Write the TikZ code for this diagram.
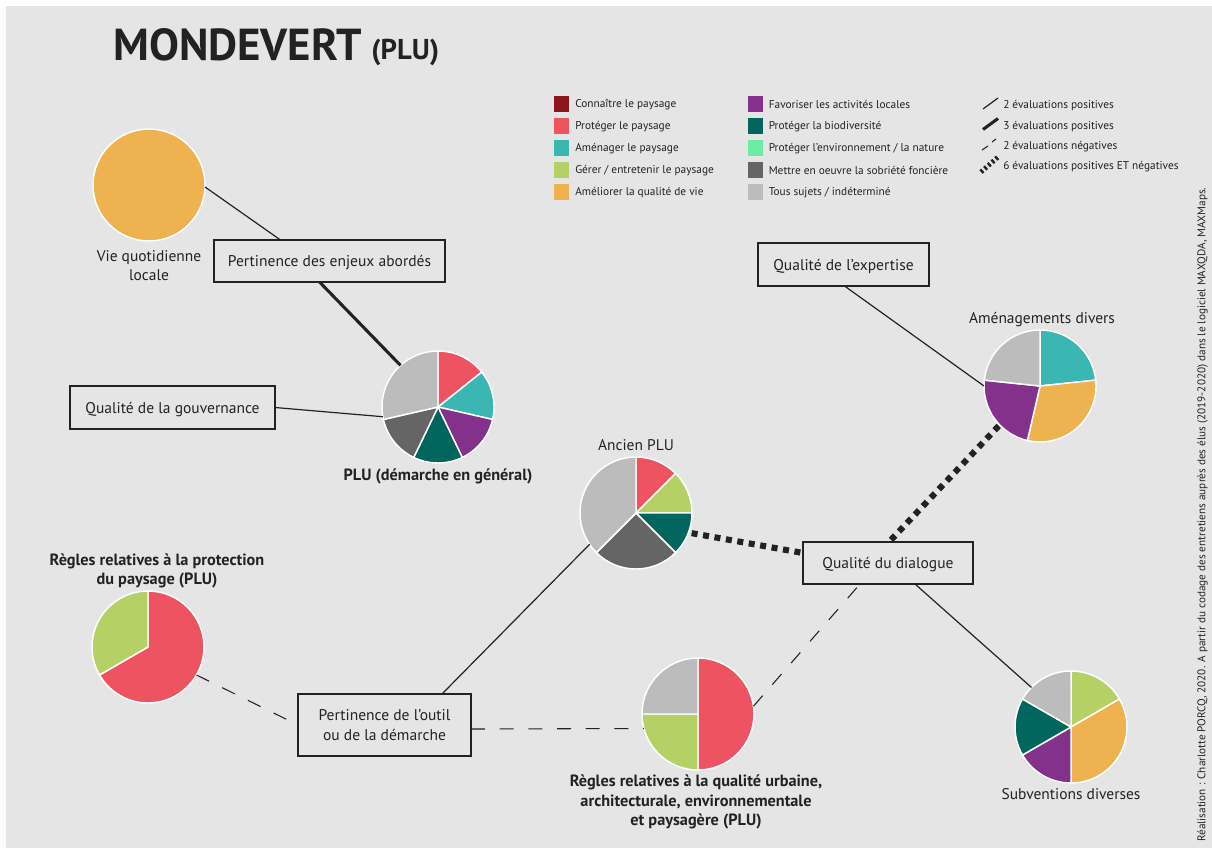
\documentclass[tikz,border=0pt]{standalone}
\usepackage{fontspec}
\setmainfont{PT Sans}
\usetikzlibrary{calc}
\definecolor{bgc}{HTML}{E5E5E5}
\definecolor{c1}{HTML}{8E1520}
\definecolor{c2}{HTML}{ED5361}
\definecolor{c3}{HTML}{3AB7B3}
\definecolor{c4}{HTML}{B5D166}
\definecolor{c5}{HTML}{EFB250}
\definecolor{c6}{HTML}{83318A}
\definecolor{c7}{HTML}{00665E}
\definecolor{c8}{HTML}{6DEDA4}
\definecolor{c9}{HTML}{656565}
\definecolor{c10}{HTML}{BCBCBC}
\definecolor{ink}{HTML}{222222}
\newcommand{\boxtext}[1]{\raisebox{-1.2pt}[\height][\depth]{\begin{tabular}{@{}c@{}}#1\end{tabular}}}
\newcommand{\piechart}[4]{% name, x, y, slices {from/to/colour}
  \node[piehub] (#1) at (#2,#3) {};
  \foreach \fr/\tt/\cc in {#4} {
    \fill[\cc,draw=white,line width=1.1pt,line join=round]
      (#2,#3) -- ({#2+56*sin(\fr)},{#3-56*cos(\fr)})
      arc[start angle={90-\fr},end angle={90-\tt},x radius=56,y radius=-56]
      -- cycle;
  }
}
\tikzset{
  x=0.75pt,y=-0.75pt,
  piehub/.style={circle,minimum size=84pt,inner sep=0pt,outer sep=0pt},
  boxn/.style={draw=ink,line width=1.2pt,fill=bgc,inner sep=0pt,outer sep=0pt,anchor=north west,align=center,text=ink,font=\fontsize{11.65}{15}\selectfont},
  lab/.style={text=ink,align=center,inner sep=0pt,font=\fontsize{11.6}{14.2}\selectfont},
  blab/.style={text=ink,align=center,inner sep=0pt,font=\bfseries\fontsize{12.2}{14.8}\selectfont},
  thin line/.style={draw=ink,line width=0.9pt},
  thick line/.style={draw=ink,line width=2.3pt},
  dashed line/.style={draw=ink,line width=0.8pt,dash pattern=on 10.5pt off 11pt},
  dot line/.style={draw=ink,line width=4.6pt,dash pattern=on 4.5pt off 4.2pt},
  swatch/.style={minimum size=11.6pt,inner sep=0pt,outer sep=0pt},
  leg/.style={anchor=west,inner sep=0pt,text=ink,font=\fontsize{8.5}{10}\selectfont},
}
\begin{document}
\begin{tikzpicture}
\path[use as bounding box,fill=white] (0,0) rectangle (1212,848);
\fill[bgc] (6,6) rectangle (1212,848);

% title
\node[anchor=base west,inner sep=0pt,text=ink] (title) at (113,61) {\bfseries\fontsize{33.6}{33.6}\selectfont MONDEVERT};
\node[anchor=base west,inner sep=0pt,text=ink] (titleb) at (371,60) {\bfseries\fontsize{21.5}{21.5}\selectfont (PLU)};

% boxes
\node[boxn,minimum width=231*0.75pt,minimum height=42*0.75pt] (enj) at (214,240) {\boxtext{Pertinence des enjeux abordés}};
\node[boxn,minimum width=205*0.75pt,minimum height=43*0.75pt] (gou) at (70,386) {\boxtext{Qualité de la gouvernance}};
\node[boxn,minimum width=171*0.75pt,minimum height=43*0.75pt] (exp) at (758,243) {\boxtext{Qualité de l'expertise}};
\node[boxn,minimum width=170*0.75pt,minimum height=42*0.75pt] (dia) at (803,542) {\boxtext{Qualité du dialogue}};
\node[boxn,minimum width=173*0.75pt,minimum height=62*0.75pt] (out) at (298,694) {\boxtext{Pertinence de l'outil\\ou de la démarche}};

% pies
\node[piehub,fill=c5,draw=white,line width=1.1pt] (vie) at (149,185) {};
\piechart{plu}{438}{407}{0/51.43/c2,51.43/102.86/c3,102.86/154.29/c6,154.29/205.71/c7,205.71/257.14/c9,257.14/360/c10}
\piechart{anc}{636}{513}{0/45/c2,45/90/c4,90/135/c7,135/225/c9,225/360/c10}
\piechart{ame}{1040}{386}{0/84/c3,84/193/c5,193/276/c6,276/360/c10}
\piechart{urb}{698}{714}{0/180/c2,180/270/c4,270/360/c10}
\piechart{sub}{1071}{727}{0/60/c4,60/180/c5,180/240/c6,240/300/c7,300/360/c10}
\piechart{pro}{148}{647}{0/240/c2,240/360/c4}

% connectors
\draw[thin line] (vie.-2) -- ($(enj.north)+(-49,0)$);
\draw[thick line] ($(enj.south)+(-10,0)$) -- (plu.132);
\draw[thin line] (gou.east) -- (plu.190);
\draw[thin line] ($(exp.south)+(1,0)$) -- (ame.180);
\draw[dot line] ($(ame.224)+(-1,1)$) -- ($(dia.north)+(1,0)$);
\draw[dot line] ($(anc.-20)+(3,1)$) -- ($(dia.west)+(0,-10)$);
\draw[thin line] ($(out.north)+(57.5,0)$) -- (anc.214);
\draw[thin line] ($(dia.south)+(27,0)$) -- (sub.135);
\draw[dashed line] (urb.8) -- ($(dia.south)+(-28,0)$);
\draw[dashed line] ($(out.east)+(0,4)$) -- (urb.195);
\draw[dashed line] (pro.-30) -- (out.west);

% pie labels
\node[lab] (lvie) at (149,266) {Vie quotidienne\\locale};
\node[blab] (lplu) at (438,476) {PLU (démarche en général)};
\node[lab] (lanc) at (636,445) {Ancien PLU};
\node[lab] (lame) at (1042,320) {Aménagements divers};
\node[blab] (lpro) at (157,571) {Règles relatives à la protection\\du paysage (PLU)};
\node[blab] (lurb) at (696,802) {Règles relatives à la qualité urbaine,\\architecturale, environnementale\\et paysagère (PLU)};
\node[lab] (lsub) at (1071,794) {Subventions diverses};

% legend
\foreach \nm/\yy/\cc/\tx in {
  a/104/c1/{Connaître le paysage},
  b/126/c2/{Protéger le paysage},
  c/148/c3/{Aménager le paysage},
  d/170/c4/{Gérer / entretenir le paysage},
  e/192/c5/{Améliorer la qualité de vie}} {
  \node[swatch,fill=\cc] (s\nm) at (561.5,\yy) {};
  \node[leg] (t\nm) at (575,\yy+0.5) {\tx};
}
\foreach \nm/\yy/\cc/\tx in {
  f/104/c6/{Favoriser les activités locales},
  g/126/c7/{Protéger la biodiversité},
  h/148/c8/{Protéger l'environnement / la nature},
  i/170/c9/{Mettre en oeuvre la sobriété foncière},
  j/192/c10/{Tous sujets / indéterminé}} {
  \node[swatch,fill=\cc] (s\nm) at (755.5,\yy) {};
  \node[leg] (t\nm) at (768.5,\yy+0.5) {\tx};
}
\node[leg] (k1) at (1003,106) {2 évaluations positives};
\node[leg] (k2) at (1003,126.5) {3 évaluations positives};
\node[leg] (k3) at (1003,146.5) {2 évaluations négatives};
\node[leg] (k4) at (1003,166.5) {6 évaluations positives ET négatives};
\coordinate (i1a) at (983,109); \coordinate (i1b) at (998,98);
\coordinate (i2a) at (983,129.5); \coordinate (i2b) at (998,118.5);
\coordinate (i3a) at (982,150); \coordinate (i3b) at (988,146);
\coordinate (i3c) at (992,142); \coordinate (i3d) at (996,139);
\coordinate (i4a) at (981,172); \coordinate (i4b) at (998,157);
\draw[thin line] (i1a) -- (i1b);
\draw[thick line] (i2a) -- (i2b);
\draw[thin line,line width=0.8pt] (i3a) -- (i3b) (i3c) -- (i3d);
\draw[draw=ink,line width=3.6pt,dash pattern=on 1.8pt off 1.9pt] (i4a) -- (i4b);

% credit
\node[rotate=90,anchor=south west,inner sep=0pt,text=ink,font=\fontsize{8.4}{10}\selectfont] (cred) at (1208,842) {Réalisation : Charlotte PORCQ, 2020. A partir du codage des entretiens auprès des élus (2019-2020) dans le logiciel MAXQDA, MAXMaps.};
\end{tikzpicture}
\end{document}
